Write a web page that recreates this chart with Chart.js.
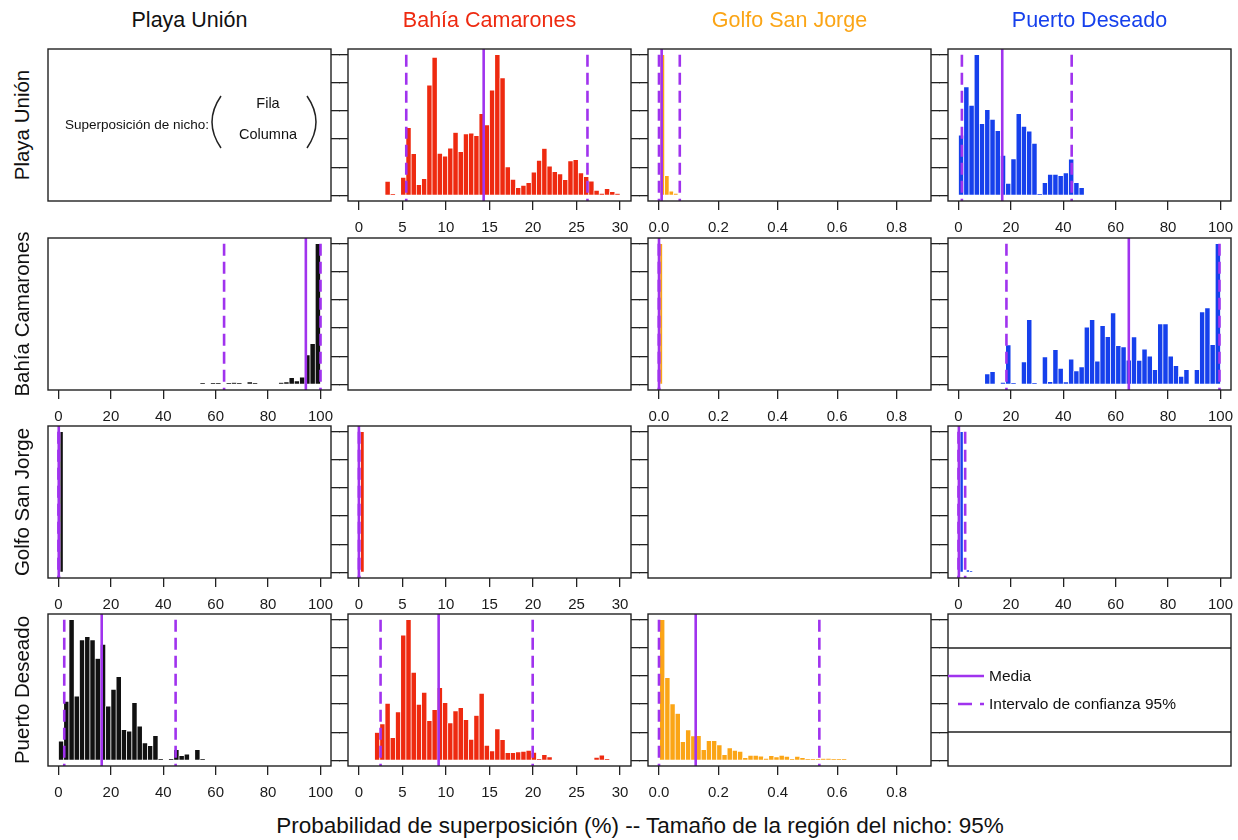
<!DOCTYPE html>
<html>
<head>
<meta charset="utf-8">
<script src="https://cdn.jsdelivr.net/npm/chart.js@4.4.1/dist/chart.umd.min.js"></script>
<style>
  body { margin: 0; background: #fff; width: 1238px; height: 840px; position: relative; overflow: hidden;
         font-family: "Liberation Sans", Arial, Helvetica, sans-serif; color: #111; }
  canvas.panel { position: absolute; }
  .coltitle { position: absolute; top: 8px; font-size: 21.5px; line-height: 24px; white-space: nowrap; transform: translateX(-50%); }
  .rowtitle { position: absolute; font-size: 20.5px; line-height: 24px; white-space: nowrap; transform: translate(-50%, -50%) rotate(-90deg); }
  .xtitle { position: absolute; top: 814px; left: 640px; font-size: 22.5px; line-height: 24px; white-space: nowrap; transform: translateX(-50%); }
</style>
</head>
<body>
<script>
// regiones (filas y columnas de la matriz)
const sites = ['Playa Unión', 'Bahía Camarones', 'Golfo San Jorge', 'Puerto Deseado'];
const siteColors = ['#111111', '#EE2A10', '#FBA516', '#1640EC'];
const lineColor = '#A033EE';

// marcas de los ejes
const pctTicks = [0, 20, 40, 60, 80, 100];
const pctTickLabels = ['0', '20', '40', '60', '80', '100'];
const bahiaTicks = [0, 5, 10, 15, 20, 25, 30];
const bahiaTickLabels = ['0', '5', '10', '15', '20', '25', '30'];
const golfoTicks = [0, 0.2, 0.4, 0.6, 0.8];
const golfoTickLabels = ['0.0', '0.2', '0.4', '0.6', '0.8'];
const countTicks = [0, 20, 40, 60, 80, 100]; // frecuencia (% del máximo)

// Playa Unión (fila) sobre Bahía Camarones (columna)
const puBcStart = 3.0, puBcWidth = 0.6;
const puBcCounts = [10, 1, 0, 12.8, 48.2, 29.7, 7.6, 11.9, 78.4, 98.1, 29.9, 27.8, 33.5, 44.7, 31.1,
  43.7, 44.2, 42.5, 58, 50.1, 74.8, 100, 83.4, 20.2, 11.4, 5.5, 7.1, 9, 16.6, 24.9, 33.3, 20.7, 16.9,
  15.2, 11.2, 24.5, 25.4, 15.9, 13.3, 10.2, 3.6, 1.4, 4.8, 2.6, 1.2];
const puBcMean = 14.33, puBcCI = [5.44, 26.25];

// Playa Unión sobre Golfo San Jorge
const puGsjStart = 0.004, puGsjWidth = 0.015;
const puGsjCounts = [100, 14, 3, 1.5];
const puGsjMean = 0.009, puGsjCI = [0.0, 0.07];

// Playa Unión sobre Puerto Deseado
const puPdStart = 0, puPdWidth = 2;
const puPdCounts = [42.8, 77, 64, 100, 51, 61, 54, 46, 28.5, 8.6, 26, 58, 49, 45.6, 37, 1, 9, 15, 15,
  14, 16, 25.7, 9, 5.5];
const puPdMean = 16.7, puPdCI = [1.3, 43.2];

// Bahía Camarones sobre Playa Unión
const bcPuStart = 54, bcPuWidth = 2;
const bcPuCounts = [1, 0, 1, 1, 0, 1, 1.2, 1, 0, 1.7, 1, 0, 0, 0, 0, 1.2, 1.7, 4.8, 2.4, 5.2, 21, 29, 100];
const bcPuMean = 94.4, bcPuCI = [63.2, 100];

// Bahía Camarones sobre Golfo San Jorge
const bcGsjStart = 0.003, bcGsjWidth = 0.009;
const bcGsjCounts = [100, 0];
const bcGsjMean = 0.0, bcGsjCI = [0.0, 0.0];

// Bahía Camarones sobre Puerto Deseado
const bcPdStart = 10, bcPdWidth = 2;
const bcPdCounts = [7.4, 9, 0, 1.4, 28, 1, 0, 16, 46, 1, 0, 19.5, 1.9, 24.7, 11.4, 1.7, 18, 9.5, 12.4,
  40.6, 46, 16.6, 41.8, 34, 50.8, 27.6, 26.6, 17.3, 33.7, 17, 25, 20, 10.5, 43, 43, 20, 13.3, 5.7,
  10.5, 0, 10.5, 51.5, 54.4, 28.3, 100];
const bcPdMean = 65.0, bcPdCI = [18.3, 99.6];

// Golfo San Jorge sobre Playa Unión
const gsjPuStart = 0.6, gsjPuWidth = 1.2;
const gsjPuCounts = [100, 0];
const gsjPuMean = 0.1, gsjPuCI = [0.0, 0.2];

// Golfo San Jorge sobre Bahía Camarones
const gsjBcStart = 0.2, gsjBcWidth = 0.4;
const gsjBcCounts = [100, 0];
const gsjBcMean = 0.0, gsjBcCI = [0.0, 0.05];

// Golfo San Jorge sobre Puerto Deseado
const gsjPdStart = 0.6, gsjPdWidth = 1.2;
const gsjPdCounts = [100, 0, 1.7, 1];
const gsjPdMean = 0.15, gsjPdCI = [0.0, 2.55];

// Puerto Deseado sobre Playa Unión
const pdPuStart = 0, pdPuWidth = 2;
const pdPuCounts = [13.6, 42, 100, 45.7, 85.7, 88, 85.7, 72.4, 82.4, 38.6, 50.5, 59.5, 21.9, 20.7, 41,
  24.3, 12.4, 10.5, 17.6, 1, 0, 1, 7.6, 3.3, 4.5, 0, 7.6, 1];
const pdPuMean = 16.5, pdPuCI = [2.2, 44.7];

// Puerto Deseado sobre Bahía Camarones
const pdBcStart = 1.8, pdBcWidth = 0.6;
const pdBcCounts = [19.8, 26, 40.5, 16.2, 34.5, 89, 100, 62.6, 39.8, 48.3, 28.3, 36, 51.7, 41, 26.7,
  35.2, 37.4, 29, 15, 31.9, 47.6, 10.7, 6.7, 22.4, 14.8, 5.5, 5.5, 6, 6.4, 7.1, 5.7, 1, 4, 2.4,
  0, 0, 0, 0, 0, 0, 0, 0, 2.1, 3.8, 1];
const pdBcMean = 9.16, pdBcCI = [2.49, 19.96];

// Puerto Deseado sobre Golfo San Jorge
const pdGsjStart = 0.002, pdGsjWidth = 0.0175;
const pdGsjCounts = [100, 58.8, 40.2, 33.3, 13.3, 21.7, 17.4, 17.6, 7.6, 14, 14, 11, 4, 8.8, 7.1, 6.4,
  1.9, 3.6, 3.6, 3.1, 1.4, 3.3, 2.4, 3.6, 2.9, 1, 2.9, 1.9, 1, 1, 1, 1.2, 1.4, 1, 1, 1];
const pdGsjMean = 0.1236, pdGsjCI = [0.0, 0.54];

// ejes x por columna
const xAxes = [
  { min: -4, max: 104, ticks: pctTicks, labels: pctTickLabels },
  { min: -1.25, max: 31.25, ticks: bahiaTicks, labels: bahiaTickLabels },
  { min: -0.037, max: 0.916, ticks: golfoTicks, labels: golfoTickLabels },
  { min: -4, max: 104, ticks: pctTicks, labels: pctTickLabels }
];

const panels = [
  { row: 0, col: 0, kind: 'note' },
  { row: 0, col: 1, start: puBcStart, width: puBcWidth, counts: puBcCounts, mean: puBcMean, ci: puBcCI },
  { row: 0, col: 2, start: puGsjStart, width: puGsjWidth, counts: puGsjCounts, mean: puGsjMean, ci: puGsjCI },
  { row: 0, col: 3, start: puPdStart, width: puPdWidth, counts: puPdCounts, mean: puPdMean, ci: puPdCI },
  { row: 1, col: 0, start: bcPuStart, width: bcPuWidth, counts: bcPuCounts, mean: bcPuMean, ci: bcPuCI },
  { row: 1, col: 1, kind: 'empty' },
  { row: 1, col: 2, start: bcGsjStart, width: bcGsjWidth, counts: bcGsjCounts, mean: bcGsjMean, ci: bcGsjCI },
  { row: 1, col: 3, start: bcPdStart, width: bcPdWidth, counts: bcPdCounts, mean: bcPdMean, ci: bcPdCI },
  { row: 2, col: 0, start: gsjPuStart, width: gsjPuWidth, counts: gsjPuCounts, mean: gsjPuMean, ci: gsjPuCI },
  { row: 2, col: 1, start: gsjBcStart, width: gsjBcWidth, counts: gsjBcCounts, mean: gsjBcMean, ci: gsjBcCI },
  { row: 2, col: 2, kind: 'empty' },
  { row: 2, col: 3, start: gsjPdStart, width: gsjPdWidth, counts: gsjPdCounts, mean: gsjPdMean, ci: gsjPdCI },
  { row: 3, col: 0, start: pdPuStart, width: pdPuWidth, counts: pdPuCounts, mean: pdPuMean, ci: pdPuCI },
  { row: 3, col: 1, start: pdBcStart, width: pdBcWidth, counts: pdBcCounts, mean: pdBcMean, ci: pdBcCI },
  { row: 3, col: 2, start: pdGsjStart, width: pdGsjWidth, counts: pdGsjCounts, mean: pdGsjMean, ci: pdGsjCI },
  { row: 3, col: 3, kind: 'legend' }
];

// posición de cada recuadro en la página
const colLeft = [48, 348, 648, 948];
const rowTop = [49, 238, 426, 614];
const panelW = 283, panelH = 152;
const tickLen = 9, axisBand = 44, topPad = 2;
const axisColor = '#222';
const fontFamily = '"Liberation Sans", Arial, Helvetica, sans-serif';

Chart.defaults.font.family = fontFamily;
Chart.defaults.font.size = 15;
Chart.defaults.color = '#1a1a1a';

// marco del panel
const framePlugin = {
  id: 'frame',
  afterDraw(chart) {
    const { ctx, chartArea: a } = chart;
    ctx.save();
    ctx.strokeStyle = axisColor;
    ctx.lineWidth = 1.4;
    ctx.strokeRect(a.left, a.top, a.right - a.left, a.bottom - a.top);
    ctx.restore();
  }
};

// texto explicativo del panel superior izquierdo
const notePlugin = {
  id: 'note',
  afterDraw(chart) {
    const { ctx, chartArea: a } = chart;
    ctx.save();
    ctx.fillStyle = '#111';
    ctx.textBaseline = 'middle';
    ctx.font = '13.5px ' + fontFamily;
    ctx.textAlign = 'left';
    ctx.fillText('Superposición de nicho:', a.left + 17, a.top + 76);
    ctx.textAlign = 'center';
    ctx.font = '14.5px ' + fontFamily;
    ctx.fillText('Fila', a.left + 220, a.top + 55);
    ctx.fillText('Columna', a.left + 220, a.top + 86);
    ctx.strokeStyle = '#222';
    ctx.lineWidth = 1.5;
    const y0 = a.top + 47, y1 = a.top + 99, ym = (y0 + y1) / 2;
    ctx.beginPath();
    ctx.moveTo(a.left + 173, y0);
    ctx.quadraticCurveTo(a.left + 155, ym, a.left + 173, y1);
    ctx.moveTo(a.left + 259, y0);
    ctx.quadraticCurveTo(a.left + 277, ym, a.left + 259, y1);
    ctx.stroke();
    ctx.restore();
  }
};

// leyenda del panel inferior derecho
const legendPlugin = {
  id: 'legendBox',
  afterDraw(chart) {
    const { ctx, chartArea: a } = chart;
    ctx.save();
    ctx.strokeStyle = axisColor;
    ctx.lineWidth = 1.4;
    ctx.beginPath();
    ctx.moveTo(a.left, a.top + 34); ctx.lineTo(a.right, a.top + 34);
    ctx.moveTo(a.left, a.top + 118); ctx.lineTo(a.right, a.top + 118);
    ctx.stroke();
    ctx.strokeStyle = lineColor;
    ctx.lineWidth = 2.6;
    ctx.beginPath();
    ctx.moveTo(a.left, a.top + 62); ctx.lineTo(a.left + 36, a.top + 62);
    ctx.stroke();
    ctx.setLineDash([14, 8]);
    ctx.beginPath();
    ctx.moveTo(a.left + 10, a.top + 90); ctx.lineTo(a.left + 36, a.top + 90);
    ctx.stroke();
    ctx.fillStyle = '#111';
    ctx.font = '15.5px ' + fontFamily;
    ctx.textBaseline = 'middle';
    ctx.fillText('Media', a.left + 41, a.top + 63);
    ctx.fillText('Intervalo de confianza 95%', a.left + 41, a.top + 91);
    ctx.restore();
  }
};

function yScale(position, show) {
  return {
    type: 'linear', position, min: -4, max: 104,
    afterBuildTicks: s => { s.ticks = countTicks.map(v => ({ value: v })); },
    afterFit: s => { s.width = tickLen; s.paddingTop = 0; s.paddingBottom = 0; },
    grid: { drawOnChartArea: false, drawTicks: show, tickLength: tickLen, color: axisColor, lineWidth: 1.3 },
    border: { display: false },
    ticks: { display: false }
  };
}

function xScale(col, show) {
  const ax = xAxes[col];
  return {
    type: 'linear', position: 'bottom', min: ax.min, max: ax.max, offset: false,
    afterBuildTicks: s => { s.ticks = ax.ticks.map(v => ({ value: v })); },
    // el recuadro no se achica por las etiquetas de los extremos
    afterFit: s => { s.height = axisBand; s.paddingLeft = 0; s.paddingRight = 0; },
    grid: { offset: false, drawOnChartArea: false, drawTicks: show, tickLength: tickLen, color: axisColor, lineWidth: 1.3 },
    border: { display: false },
    ticks: { display: show, autoSkip: false, maxRotation: 0, padding: 9, color: '#1a1a1a',
             font: { size: 15 }, callback: (v, i) => ax.labels[i] }
  };
}

function vline(x, yFrom, yTo, dashed) {
  return {
    type: 'line', order: 1,
    data: [{ x, y: yFrom }, { x, y: yTo }],
    borderColor: lineColor, borderWidth: 2.6,
    borderDash: dashed ? [12, 6] : [],
    pointRadius: 0, tension: 0, fill: false
  };
}

panels.forEach(p => {
  const canvas = document.createElement('canvas');
  canvas.className = 'panel';
  canvas.width = panelW + 2 * tickLen;
  canvas.height = topPad + panelH + axisBand;
  canvas.style.left = (colLeft[p.col] - tickLen) + 'px';
  canvas.style.top = (rowTop[p.row] - topPad) + 'px';
  document.body.appendChild(canvas);

  const hasData = !p.kind;
  const datasets = [];
  const plugins = [framePlugin];
  if (hasData) {
    datasets.push(vline(p.mean, -4, 104, false));
    datasets.push(vline(p.ci[0], 100, -4, true));
    datasets.push(vline(p.ci[1], 100, -4, true));
    datasets.push({
      type: 'bar', order: 2,
      data: p.counts.map((c, i) => ({ x: p.start + p.width * (i + 0.5), y: c })),
      backgroundColor: siteColors[p.col],
      borderColor: '#ffffff', borderWidth: 0.7,
      barPercentage: 1, categoryPercentage: 1
    });
  }
  if (p.kind === 'note') plugins.push(notePlugin);
  if (p.kind === 'legend') plugins.push(legendPlugin);

  new Chart(canvas, {
    type: 'bar',
    data: { datasets },
    options: {
      responsive: false,
      animation: false,
      events: [],
      layout: { padding: { top: topPad, left: 0, right: 0, bottom: 0 } },
      plugins: { legend: { display: false }, tooltip: { enabled: false } },
      scales: {
        x: xScale(p.col, hasData),
        y: yScale('left', p.col > 0),
        yR: yScale('right', p.col < 3)
      }
    },
    plugins
  });
});

// títulos de columnas y filas
sites.forEach((name, i) => {
  const t = document.createElement('div');
  t.className = 'coltitle';
  t.textContent = name;
  t.style.left = (colLeft[i] + panelW / 2) + 'px';
  t.style.color = siteColors[i];
  document.body.appendChild(t);

  const r = document.createElement('div');
  r.className = 'rowtitle';
  r.textContent = name;
  r.style.left = '22px';
  r.style.top = (rowTop[i] + panelH / 2) + 'px';
  document.body.appendChild(r);
});

const xt = document.createElement('div');
xt.className = 'xtitle';
xt.textContent = 'Probabilidad de superposición (%) -- Tamaño de la región del nicho: 95%';
document.body.appendChild(xt);
</script>
</body>
</html>
